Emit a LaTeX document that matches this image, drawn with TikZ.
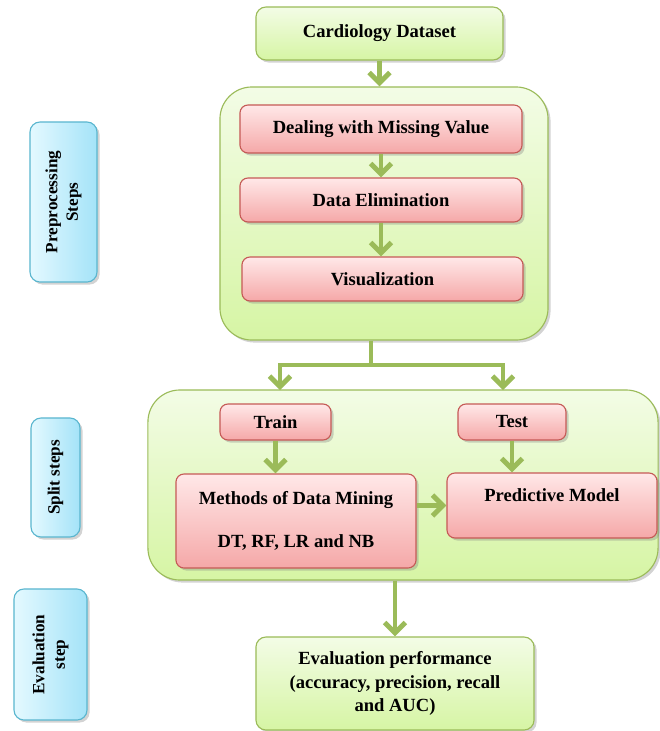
\documentclass[tikz,border=0pt]{standalone}
\usepackage{fontspec}
\setmainfont{Liberation Serif}
\usetikzlibrary{arrows.meta,shadows}

\definecolor{boxgreen}{HTML}{9BBB59}
\definecolor{greentop}{HTML}{F3FCE6}
\definecolor{greenbot}{HTML}{D6F5A4}
\definecolor{boxred}{HTML}{C55A56}
\definecolor{redtop}{HTML}{FFE8E8}
\definecolor{redbot}{HTML}{F5A8A8}
\definecolor{sideblue}{HTML}{5AB6CF}
\definecolor{bluelight}{HTML}{E4F9FF}
\definecolor{bluedark}{HTML}{A4E3F8}

\newcommand{\boxfont}{\fontsize{13.2}{16.7}\selectfont\bfseries}
\newcommand{\sidefont}{\fontsize{12.2}{14.5}\selectfont\bfseries}

\tikzset{
  greenbox/.style={draw=boxgreen, line width=0.8pt, rounded corners=0.25cm,
    top color=greentop, bottom color=greenbot, align=center, font=\boxfont,
    drop shadow={opacity=0.35, shadow xshift=1.8pt, shadow yshift=-1.8pt}},
  bigbox/.style={greenbox, rounded corners=0.8cm},
  redbox/.style={draw=boxred, line width=0.8pt, rounded corners=0.2cm,
    top color=redtop, bottom color=redbot, align=center, font=\boxfont,
    drop shadow={opacity=0.35, shadow xshift=1.8pt, shadow yshift=-1.8pt}},
  sidebox/.style={draw=sideblue, line width=0.8pt, rounded corners=0.25cm,
    left color=bluelight, right color=bluedark, align=center, font=\sidefont,
    rotate=90, drop shadow={opacity=0.35, shadow xshift=1.8pt, shadow yshift=-1.8pt}},
  flowline/.style={draw=boxgreen, line width=3.5pt},
  flow/.style={flowline, -{Straight Barb[length=0.26cm, width=0.52cm]}}
}

\begin{document}
\begin{tikzpicture}[x=0.025cm, y=-0.025cm]
  \useasboundingbox (0, 0) rectangle (659, 731);

  % Side labels
  \node[sidebox, minimum width=4cm, minimum height=1.675cm] (sprep) at (63.5, 202) {Preprocessing\\Steps};
  \node[sidebox, minimum width=2.975cm, minimum height=1.225cm] (ssplit) at (55.5, 477.5) {Split steps};
  \node[sidebox, minimum width=3.275cm, minimum height=1.825cm] (seval) at (50.5, 654.5) {Evaluation\\step};

  % Dataset
  \node[greenbox, minimum width=6.175cm, minimum height=1.325cm] (data) at (379.5, 33.5) {Cardiology Dataset};

  % Preprocessing block
  \node[bigbox, minimum width=8.2cm, minimum height=6.325cm] (prep) at (384, 213.5) {};
  \node[redbox, minimum width=7.05cm, minimum height=1.2cm] (miss) at (381, 129) {Dealing with Missing Value};
  \node[redbox, minimum width=7.05cm, minimum height=1.1cm] (elim) at (381, 200) {Data Elimination};
  \node[redbox, minimum width=7.025cm, minimum height=1.1cm] (vis) at (382.5, 279) {Visualization};

  % Split block
  \node[bigbox, minimum width=12.75cm, minimum height=4.75cm] (split) at (403, 485) {};
  \node[redbox, minimum width=2.775cm, minimum height=0.9cm] (train) at (275.5, 422) {Train};
  \node[redbox, minimum width=2.7cm, minimum height=0.9cm] (test) at (512, 422) {Test};
  \node[redbox, minimum width=6cm, minimum height=2.35cm] (methods) at (296, 521)
    {Methods of Data Mining\\[14pt]DT, RF, LR and NB};
  \node[redbox, minimum width=5.25cm, minimum height=1.625cm,
    label={[font=\boxfont, yshift=0.25cm]center:Predictive Model}] (pred) at (552, 505.5) {};

  % Evaluation
  \node[greenbox, minimum width=6.95cm, minimum height=2.325cm] (eval) at (395, 683.5)
    {Evaluation performance\\(accuracy, precision, recall\\and AUC)};

  % Connectors
  \coordinate (fork) at (371, 365);
  \coordinate (inL) at (280, 390);
  \coordinate (inR) at (503, 390);
  \draw[flow] (data.south) -- (data.south |- prep.north);
  \draw[flow] (miss.south) -- (miss.south |- elim.north);
  \draw[flow] (elim.south) -- (elim.south |- vis.north);
  \draw[flowline] (fork |- prep.south) -- (fork);
  \draw[flow] (fork) -| (inL);
  \draw[flow] (fork) -| (inR);
  \draw[flow] (train.south) -- (train.south |- methods.north);
  \draw[flow] (test.south) -- (test.south |- pred.north);
  \draw[flow] (methods.east |- pred.west) -- (pred.west);
  \draw[flow] (eval.north |- split.south) -- (eval.north);
\end{tikzpicture}
\end{document}
